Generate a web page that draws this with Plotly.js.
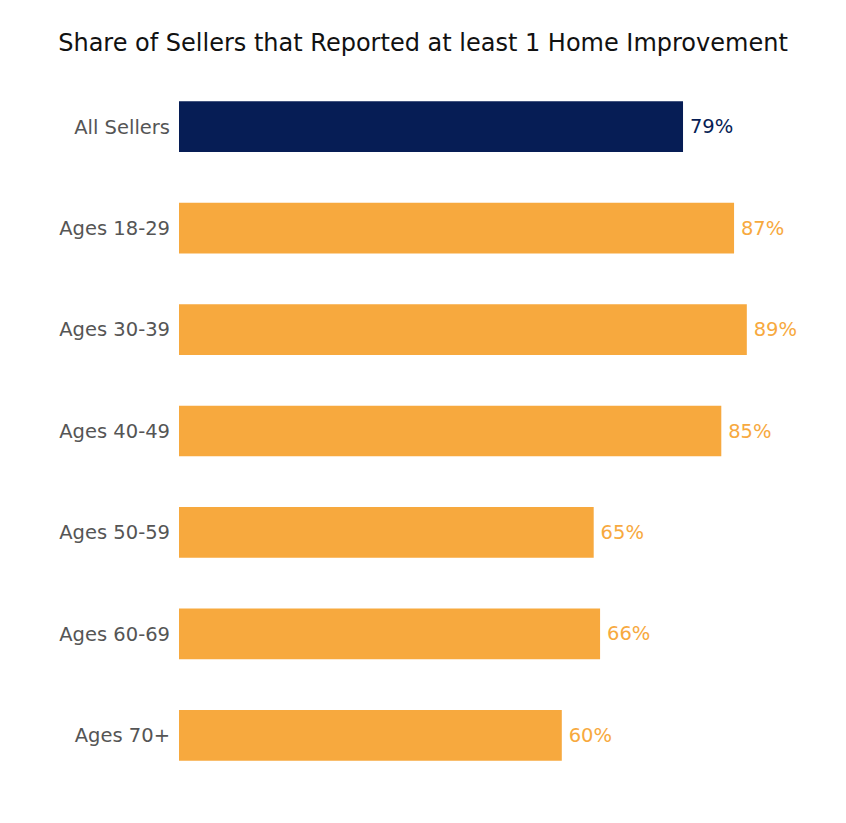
<!DOCTYPE html>
<html>
<head>
<meta charset="utf-8">
<script src="https://cdn.plot.ly/plotly-3.0.1.min.js"></script>
<style>
  html, body { margin: 0; padding: 0; background: #ffffff; }
  #chart { width: 846px; height: 823px; }
</style>
</head>
<body>
<div id="chart"></div>
<script>
// Share of sellers reporting at least one home improvement, by age group
const categories = ['All Sellers', 'Ages 18-29', 'Ages 30-39', 'Ages 40-49', 'Ages 50-59', 'Ages 60-69', 'Ages 70+'];
const shares = [79, 87, 89, 85, 65, 66, 60];
const valueLabels = ['79%', '87%', '89%', '85%', '65%', '66%', '60%'];

const NAVY = '#061d55';
const ORANGE = '#f7a93e';
const FONT = 'DejaVu Sans, sans-serif';
const barColors = categories.map((c, i) => i === 0 ? NAVY : ORANGE);

const trace = {
  type: 'bar',
  orientation: 'h',
  y: categories,
  x: shares,
  // thin space keeps the value label a little off the bar end
  text: valueLabels.map(t => '\u2009' + t),
  textposition: 'outside',
  cliponaxis: false,
  textfont: { family: FONT, size: 19.5, color: barColors },
  marker: { color: barColors },
  hoverinfo: 'none'
};

const layout = {
  width: 846,
  height: 823,
  paper_bgcolor: '#ffffff',
  plot_bgcolor: '#ffffff',
  margin: { l: 179, r: 29, t: 76, b: 37 },
  title: {
    text: 'Share of Sellers that Reported at least 1 Home Improvement',
    x: 0.5,
    xanchor: 'center',
    y: 0.948,
    yanchor: 'middle',
    font: { family: FONT, size: 24, color: '#111111' }
  },
  bargap: 0.5,
  showlegend: false,
  xaxis: {
    range: [0, 100],
    visible: false,
    fixedrange: true
  },
  yaxis: {
    autorange: 'reversed',
    showgrid: false,
    zeroline: false,
    showline: false,
    ticks: '',
    ticklabelstandoff: 8,
    tickfont: { family: FONT, size: 19.5, color: '#555555' },
    fixedrange: true
  }
};

Plotly.newPlot('chart', [trace], layout, { displayModeBar: false, staticPlot: true });
</script>
</body>
</html>
